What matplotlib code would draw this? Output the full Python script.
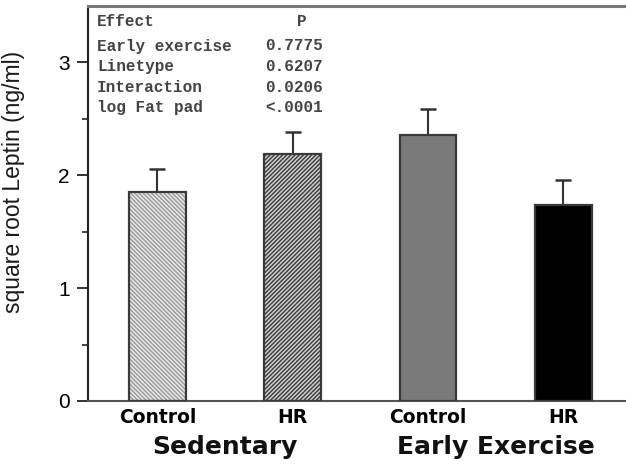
import matplotlib.pyplot as plt
import matplotlib.transforms as mtransforms

# data
groups = ['Sedentary', 'Early Exercise']
bar_labels = ['Control', 'HR', 'Control', 'HR']
leptin = [1.85, 2.19, 2.36, 1.74]
sem = [0.21, 0.19, 0.23, 0.22]

effects = ['Early exercise', 'Linetype', 'Interaction', 'log Fat pad']
p_values = ['0.7775', '0.6207', '0.0206', '<.0001']

face = ['#e6e6e6', '#cfcfcf', '#7a7a7a', '#000000']
hatch_col = ['#9a9a9a', '#3a3a3a', None, None]
hatches = ['\\' * 8, '/' * 8, None, None]

plt.rcParams['hatch.linewidth'] = 1.0

fig = plt.figure(figsize=(6.26, 4.68), dpi=100)
ax = fig.add_axes([88 / 626, 67 / 468, 1 - 88 / 626, (401 - 6) / 468])

x = list(range(len(leptin)))
ax.errorbar(x, leptin, yerr=[[0] * len(sem), sem], fmt='none',
            ecolor='#333333', elinewidth=1.5, capsize=6, capthick=1.8, zorder=1)
for i in x:
    if hatches[i]:
        ax.bar(i, leptin[i], width=0.42, color=face[i], edgecolor=hatch_col[i],
               hatch=hatches[i], linewidth=0, zorder=2)
    else:
        ax.bar(i, leptin[i], width=0.42, color=face[i], linewidth=0, zorder=2)
ax.bar(x, leptin, width=0.42, fill=False, edgecolor='#3a3a3a', linewidth=1.6, zorder=3)

ax.set_xlim(-0.514, 3.465)
ax.set_ylim(0, 3.5)
ax.set_yticks([0, 1, 2, 3])
ax.set_yticks([0.5, 1.5, 2.5], minor=True)
ax.tick_params(axis='y', which='major', direction='out', length=8, width=1.3,
               labelsize=15, pad=5, color='#222222')
ax.tick_params(axis='y', which='minor', direction='out', length=4, width=1.2,
               color='#222222')
for lab in ax.get_yticklabels():
    lab.set_family('Liberation Sans')

ax.set_xticks(x)
ax.set_xticklabels(bar_labels, fontsize=13.5, fontweight='bold', family='DejaVu Sans')
ax.tick_params(axis='x', length=0, pad=5)

ax.spines['right'].set_visible(False)
ax.spines['left'].set_color('#222222')
ax.spines['left'].set_linewidth(1.5)
ax.spines['bottom'].set_color('#555555')
ax.spines['bottom'].set_linewidth(1.5)
ax.spines['top'].set_color('#777777')
ax.spines['top'].set_linewidth(2.2)

ax.set_ylabel('square root Leptin (ng/ml)', fontsize=16.5, family='Liberation Sans',
              color='#1a1a1a')
ax.yaxis.set_label_coords(-0.117, 0.554)

trans = mtransforms.blended_transform_factory(ax.transData, ax.transAxes)
for g, name in enumerate(groups):
    ax.text(2 * g + 0.5, -0.117, name, transform=trans, ha='center', va='center',
            fontsize=18, fontweight='bold', family='DejaVu Sans', color='#111111')

# statistics table in the corner
mono = dict(family='Liberation Mono', fontsize=11.5, fontweight='bold', color='#444444')
fig.text(97 / 626, 1 - 21 / 468, 'Effect', va='center', **mono)
fig.text(302 / 626, 1 - 21 / 468, 'P', va='center', ha='center', **mono)
for k, (eff, p) in enumerate(zip(effects, p_values)):
    yy = 1 - (46 + 20.5 * k) / 468
    fig.text(97 / 626, yy, eff, va='center', **mono)
    fig.text(265 / 626, yy, p, va='center', **mono)

fig.savefig('out.png', dpi=100)
